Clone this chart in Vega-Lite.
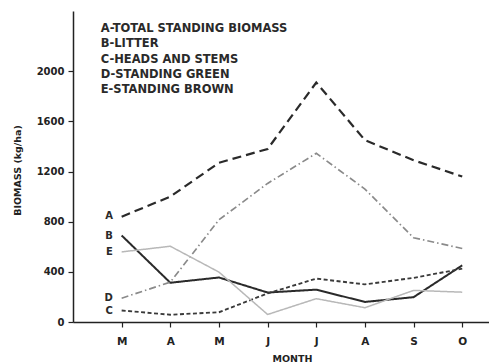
{
  "$schema": "https://vega.github.io/schema/vega-lite/v6.json",
  "width": 416,
  "height": 311,
  "autosize": {"type": "none"},
  "padding": {"left": 73, "top": 11, "right": 0, "bottom": 42},
  "background": "white",
  "config": {
    "view": {"stroke": null},
    "font": "DejaVu Sans",
    "axis": {"grid": false, "domainColor": "#222", "tickColor": "#222", "labelColor": "#222", "titleColor": "#222", "domainWidth": 1.5, "tickWidth": 1.2}
  },
  "datasets": {
    "lines": [
      {"s": "A", "m": 1, "v": 840}, {"s": "A", "m": 2, "v": 1000}, {"s": "A", "m": 3, "v": 1270}, {"s": "A", "m": 4, "v": 1380},
      {"s": "A", "m": 5, "v": 1910}, {"s": "A", "m": 6, "v": 1450}, {"s": "A", "m": 7, "v": 1290}, {"s": "A", "m": 8, "v": 1160},
      {"s": "B", "m": 1, "v": 690}, {"s": "B", "m": 2, "v": 313}, {"s": "B", "m": 3, "v": 355}, {"s": "B", "m": 4, "v": 235},
      {"s": "B", "m": 5, "v": 258}, {"s": "B", "m": 6, "v": 160}, {"s": "B", "m": 7, "v": 198}, {"s": "B", "m": 8, "v": 452},
      {"s": "C", "m": 1, "v": 92}, {"s": "C", "m": 2, "v": 58}, {"s": "C", "m": 3, "v": 78}, {"s": "C", "m": 4, "v": 228},
      {"s": "C", "m": 5, "v": 346}, {"s": "C", "m": 6, "v": 300}, {"s": "C", "m": 7, "v": 352}, {"s": "C", "m": 8, "v": 425},
      {"s": "D", "m": 1, "v": 190}, {"s": "D", "m": 2, "v": 318}, {"s": "D", "m": 3, "v": 815}, {"s": "D", "m": 4, "v": 1105},
      {"s": "D", "m": 5, "v": 1345}, {"s": "D", "m": 6, "v": 1060}, {"s": "D", "m": 7, "v": 672}, {"s": "D", "m": 8, "v": 586},
      {"s": "E", "m": 1, "v": 559}, {"s": "E", "m": 2, "v": 604}, {"s": "E", "m": 3, "v": 398}, {"s": "E", "m": 4, "v": 60},
      {"s": "E", "m": 5, "v": 186}, {"s": "E", "m": 6, "v": 114}, {"s": "E", "m": 7, "v": 252}, {"s": "E", "m": 8, "v": 238}
    ],
    "tags": [
      {"t": "A", "m": 0.82, "v": 844},
      {"t": "B", "m": 0.82, "v": 684},
      {"t": "E", "m": 0.82, "v": 559},
      {"t": "D", "m": 0.82, "v": 192},
      {"t": "C", "m": 0.82, "v": 88}
    ],
    "legend": [
      {"t": "A-TOTAL STANDING BIOMASS", "m": 0.57, "v": 2338},
      {"t": "B-LITTER", "m": 0.57, "v": 2220},
      {"t": "C-HEADS AND STEMS", "m": 0.57, "v": 2086},
      {"t": "D-STANDING GREEN", "m": 0.57, "v": 1966},
      {"t": "E-STANDING BROWN", "m": 0.57, "v": 1848}
    ]
  },
  "layer": [
    {
      "data": {"name": "lines"},
      "mark": {"type": "line"},
      "encoding": {
        "x": {"field": "m", "type": "quantitative", "scale": {"domain": [0, 8.55], "nice": false},
          "axis": {"values": [1, 2, 3, 4, 5, 6, 7, 8], "labelExpr": "['','M','A','M','J','J','A','S','O'][datum.value]", "title": "MONTH", "titleFontSize": 9.5, "titleFontWeight": "bold", "titlePadding": 7, "titleX": 219, "labelFontSize": 10.5, "labelFontWeight": "bold", "tickSize": 5, "labelPadding": 9}},
        "y": {"field": "v", "type": "quantitative", "scale": {"domain": [0, 2480], "nice": false},
          "axis": {"values": [0, 400, 800, 1200, 1600, 2000], "format": "d", "title": "BIOMASS (kg/ha)", "titleFontSize": 9.5, "titleFontWeight": "bold", "titlePadding": 14, "labelFontSize": 10, "labelFontWeight": "bold", "tickSize": 5, "labelPadding": 4, "titleY": 159}},
        "detail": {"field": "s"},
        "color": {"field": "s", "type": "nominal", "legend": null, "scale": {"domain": ["A", "B", "C", "D", "E"], "range": ["#2a2a2a", "#2a2a2a", "#3a3a3a", "#8a8a8a", "#b8b8b8"]}},
        "strokeDash": {"field": "s", "type": "nominal", "legend": null, "scale": {"domain": ["A", "B", "C", "D", "E"], "range": [[9, 5], [1, 0], [4, 2.5], [7, 3, 1.5, 3], [1, 0]]}},
        "strokeWidth": {"field": "s", "type": "nominal", "legend": null, "scale": {"domain": ["A", "B", "C", "D", "E"], "range": [2.2, 1.5, 1.5, 1.1, 1.1]}}
      }
    },
    {
      "data": {"name": "tags"},
      "mark": {"type": "text", "fontSize": 10, "fontWeight": "bold", "align": "right", "baseline": "middle", "color": "#2a2a2a"},
      "encoding": {
        "x": {"field": "m", "type": "quantitative"},
        "y": {"field": "v", "type": "quantitative"},
        "text": {"field": "t"}
      }
    },
    {
      "data": {"name": "legend"},
      "mark": {"type": "text", "fontSize": 11.5, "fontWeight": "bold", "align": "left", "baseline": "middle", "color": "#2a2a2a"},
      "encoding": {
        "x": {"field": "m", "type": "quantitative"},
        "y": {"field": "v", "type": "quantitative"},
        "text": {"field": "t"}
      }
    }
  ]
}
